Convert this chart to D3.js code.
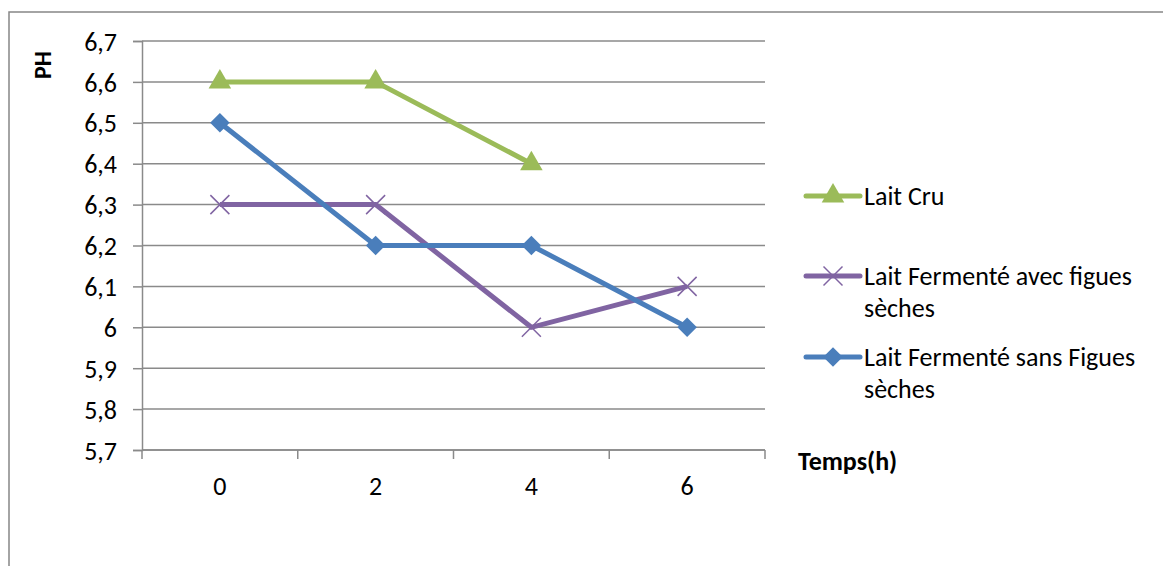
<!DOCTYPE html>
<html>
<head>
<meta charset="utf-8">
<script src="https://cdn.jsdelivr.net/npm/d3@7"></script>
<style>
body { margin: 0; background: #fff; }
text { font-family: Carlito, Calibri, Lato, sans-serif; fill: #000; }
</style>
</head>
<body>
<svg width="1163" height="566"></svg>
<script>
var hours = [0, 2, 4, 6];
var yTicks = [5.7, 5.8, 5.9, 6, 6.1, 6.2, 6.3, 6.4, 6.5, 6.6, 6.7];
var laitCru = [6.6, 6.6, 6.4];
var laitAvecFigues = [6.3, 6.3, 6.0, 6.1];
var laitSansFigues = [6.5, 6.2, 6.2, 6.0];
var seriesNames = ['Lait Cru', 'Lait Fermenté avec figues sèches', 'Lait Fermenté sans Figues sèches'];

let svg = d3.select('svg');
let font = 'Carlito, Calibri, Lato, sans-serif';
// chart area border
svg.append('rect').attr('x', 9).attr('y', 12).attr('width', 1170).attr('height', 570)
    .attr('fill', 'none').attr('stroke', '#878787').attr('stroke-width', 1.5);

let xScale = d3.scaleBand().domain(hours).range([142, 765]);
let yScale = d3.scaleLinear().domain([5.7, 6.7]).range([450, 41]);

// gridlines
svg.append('g').selectAll('line').data(yTicks).enter().append('line')
    .attr('x1', 142).attr('x2', 765)
    .attr('y1', d => yScale(d)).attr('y2', d => yScale(d))
    .attr('stroke', '#8a8a8a').attr('stroke-width', 1.5);

let fmt = d => d3.format('.1f')(d).replace('.', ',').replace(',0', '');
let yAxis = d3.axisLeft(yScale).tickValues(yTicks).tickFormat(fmt).tickSize(9).tickPadding(16);
let yAxisG = svg.append('g').attr('transform', 'translate(142,0)').call(yAxis);
let xAxis = d3.axisBottom(xScale).tickSize(0).tickPadding(27);
let xAxisG = svg.append('g').attr('transform', 'translate(0,450)').call(xAxis);
[yAxisG, xAxisG].forEach(g => {
    g.select('.domain').attr('stroke', '#8a8a8a').attr('stroke-width', 1.5);
    g.selectAll('line').attr('stroke', '#8a8a8a').attr('stroke-width', 1.5);
    g.selectAll('text').attr('font-size', 26).attr('font-family', font).attr('fill', '#000');
});
yAxisG.selectAll('text').attr('dy', '0.35em');
xAxisG.select('.domain').attr('d', 'M142,0H765');
// x ticks between categories
svg.append('g').selectAll('line').data(d3.range(hours.length + 1)).enter().append('line')
    .attr('x1', i => 142 + i * xScale.step()).attr('x2', i => 142 + i * xScale.step())
    .attr('y1', 450).attr('y2', 459).attr('stroke', '#8a8a8a').attr('stroke-width', 1.5);

let cx = d => xScale(d) + xScale.bandwidth() / 2;
let series = [
    {name: seriesNames[0], values: laitCru, color: '#9bbb59', symbol: d3.symbolTriangle, size: 220, rot: 0},
    {name: seriesNames[1], values: laitAvecFigues, color: '#8064a2', symbol: 'x', size: 0, rot: 0},
    {name: seriesNames[2], values: laitSansFigues, color: '#4a7ebb', symbol: d3.symbolSquare, size: 190, rot: 45}
];
let line = d3.line().x((d, i) => cx(hours[i])).y(d => yScale(d));

function drawMarker(g, s, x, y) {
    if (s.symbol === 'x') {
        g.append('path').attr('d', `M${x - 9.5},${y - 9.5}L${x + 9.5},${y + 9.5}M${x - 9.5},${y + 9.5}L${x + 9.5},${y - 9.5}`)
            .attr('stroke', s.color).attr('stroke-width', 1.5);
    } else {
        g.append('path').attr('d', d3.symbol().type(s.symbol).size(s.size))
            .attr('transform', `translate(${x},${y}) rotate(${s.rot})`).attr('fill', s.color);
    }
}

series.forEach(s => {
    svg.append('path').datum(s.values).attr('d', line)
        .attr('fill', 'none').attr('stroke', s.color).attr('stroke-width', 5);
    let g = svg.append('g');
    s.values.forEach((v, i) => drawMarker(g, s, cx(hours[i]), yScale(v)));
});

// legend
let legendY = [196, 276, 357];
let legendLines = [['Lait Cru'], ['Lait Fermenté avec figues', 'sèches'], ['Lait Fermenté sans Figues', 'sèches']];
series.forEach((s, i) => {
    let g = svg.append('g');
    g.append('line').attr('x1', 806).attr('x2', 860).attr('y1', legendY[i]).attr('y2', legendY[i])
        .attr('stroke', s.color).attr('stroke-width', 5).attr('stroke-linecap', 'round');
    drawMarker(g, s, 833, legendY[i]);
    legendLines[i].forEach((t, j) => {
        g.append('text').attr('x', 864).attr('y', legendY[i] + 9 + j * 32).attr('font-size', 26).text(t);
    });
});

svg.append('text').attr('transform', 'translate(51,65) rotate(-90)').attr('text-anchor', 'middle')
    .attr('font-size', 24).attr('font-weight', 'bold').text('PH');
svg.append('text').attr('x', 798).attr('y', 470).attr('font-size', 26).attr('font-weight', 'bold').text('Temps(h)');
</script>
</body>
</html>
